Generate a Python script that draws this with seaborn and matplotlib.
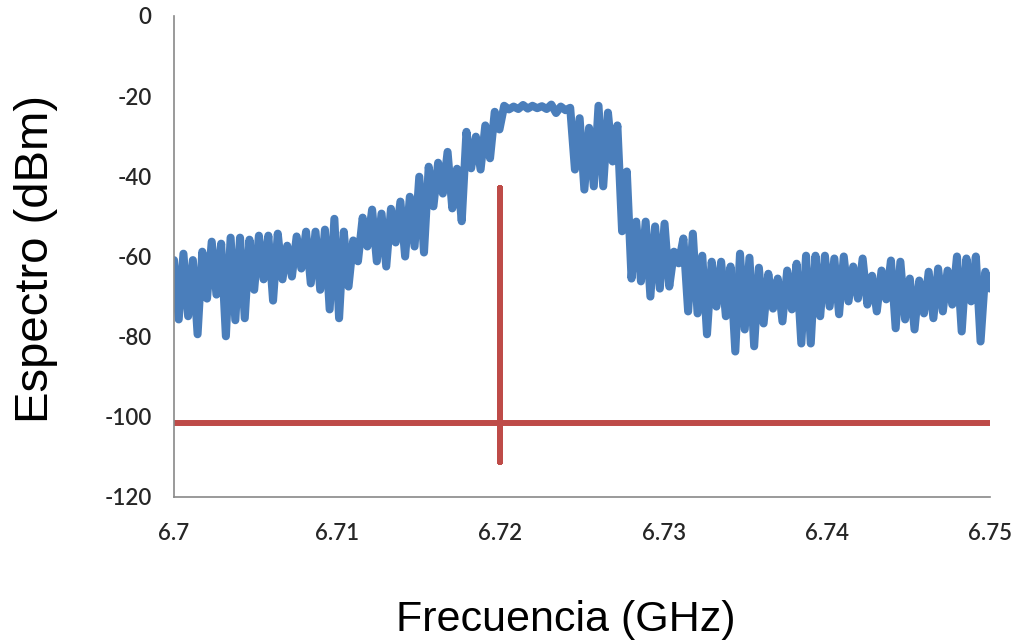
import numpy as np
import pandas as pd
import matplotlib
matplotlib.use("Agg")
import matplotlib.pyplot as plt
import seaborn as sns

# Frequency span of the sweep (GHz)
freq_start, freq_stop = 6.70, 6.75

# Measured spectrum (dBm), alternating local maxima / minima across the sweep
lower_band = [
    -60.9, -75.7, -59.3, -74.9, -60.9, -79.4, -58.8, -70.5, -56.3, -69.5,
    -56.8, -79.9, -55.3, -75.9, -55.3, -75.4, -55.8, -68.3, -54.8, -65.7,
    -54.8, -71.0, -54.3, -65.7, -57.3, -65.0, -55.0, -63.0, -53.8,
]
rising_edge = [
    -66.7, -53.8, -68.3, -53.3, -73.2, -50.6, -75.4, -53.8, -67.5, -56.0,
    -61.2, -50.3, -57.5, -48.3, -61.2, -49.3, -62.5, -48.1, -56.5, -46.3,
    -60.0, -45.1, -57.5, -40.1, -59.0, -37.6, -47.5, -36.6, -44.3, -33.9,
    -48.0, -38.1, -51.2, -28.9, -38.0, -30.1, -38.3, -27.3, -35.5, -23.9,
    -28.3, -22.4,
]
passband = [
    -23.3, -22.6, -23.2, -22.2, -23.1, -22.4, -23.0, -22.5, -23.2, -22.1,
    -24.2, -22.6, -23.5, -22.9,
]
falling_edge = [
    -38.3, -25.5, -43.3, -27.9, -42.5, -22.4, -42.5, -24.1, -36.3, -27.3,
    -53.7, -38.8, -65.5, -51.3, -66.2, -51.3, -70.0, -52.5, -68.0, -51.8,
    -67.5, -58.8, -61.7, -55.5, -73.7, -54.3, -74.2, -59.8, -79.4, -61.3,
]
upper_band = [
    -72.5, -61.3, -74.9, -62.5, -83.7, -59.3, -78.2, -60.3, -82.4, -62.8,
    -76.7, -64.3, -73.0, -65.5, -76.2, -63.5, -73.2, -61.8, -81.7, -59.8,
    -81.7, -59.8, -74.9, -59.8, -72.5, -60.5, -74.4, -60.0,
    -71.2, -62.5, -70.5, -60.5, -72.0, -64.8, -73.7, -63.5, -70.7, -61.0,
    -77.9, -61.3, -75.7, -65.5, -78.2, -66.0, -74.2, -63.8, -75.4, -63.0,
    -73.7, -63.5, -72.0, -60.0, -78.7, -60.5, -71.2, -60.0, -81.2, -63.8,
    -68.0,
]

# Reference tone: noise floor with a single line at 6.72 GHz
tone_freq = [6.70, 6.72, 6.72, 6.72, 6.72, 6.75]
tone_level = [-101.5, -101.5, -43.0, -111.3, -101.5, -101.5]

# Axis ticks
x_ticks = [6.70, 6.71, 6.72, 6.73, 6.74, 6.75]
x_tick_labels = ["6.7", "6.71", "6.72", "6.73", "6.74", "6.75"]
y_ticks = [0, -20, -40, -60, -80, -100, -120]
y_tick_labels = ["0", "-20", "-40", "-60", "-80", "-100", "-120"]

spectrum = lower_band + rising_edge + passband + falling_edge + upper_band
spec_df = pd.DataFrame({
    "freq": np.linspace(freq_start, freq_stop, len(spectrum)),
    "level": spectrum,
})
tone_df = pd.DataFrame({"freq": tone_freq, "level": tone_level})

sns.set_theme(style="white")
plt.rcParams["font.family"] = ["Liberation Sans", "DejaVu Sans"]

fig = plt.figure(figsize=(10.19, 6.44), dpi=100)
ax = fig.add_axes([174 / 1019, 1 - 497 / 644, (990 - 174) / 1019, (497 - 16) / 644])

blue = "#4A7EBB"
red = "#BE4B48"

sns.lineplot(data=spec_df, x="freq", y="level", ax=ax, color=blue,
             linewidth=5.8, sort=False, estimator=None,
             solid_joinstyle="round", solid_capstyle="round")
sns.lineplot(data=tone_df, x="freq", y="level", ax=ax, color=red,
             linewidth=4.3, sort=False, estimator=None,
             solid_joinstyle="round", solid_capstyle="round")

ax.set_xlim(freq_start, freq_stop)
ax.set_ylim(-120, 0)
ax.set_xticks(x_ticks)
ax.set_xticklabels(x_tick_labels)
ax.set_yticks(y_ticks)
ax.set_yticklabels(y_tick_labels)
ax.set_xlabel("")
ax.set_ylabel("")

for side in ("top", "right"):
    ax.spines[side].set_visible(False)
for side in ("left", "bottom"):
    ax.spines[side].set_color("#898989")
    ax.spines[side].set_linewidth(1.2)

tick_font = ["Lato", "DejaVu Sans"]
ax.tick_params(axis="both", which="major", direction="out", length=6,
               width=1.2, color="#898989", labelcolor="#262626", labelsize=16)
ax.tick_params(axis="y", pad=10)
ax.tick_params(axis="x", pad=13)
for lbl in ax.get_xticklabels() + ax.get_yticklabels():
    lbl.set_family(tick_font)
    lbl.set_fontweight("semibold")

fig.text(566 / 1019, 1 - 620 / 644, "Frecuencia (GHz)", ha="center", va="center",
         fontsize=31, color="#000000")
fig.text(36 / 1019, 1 - 259 / 644, "Espectro (dBm)", ha="center", va="center",
         rotation=90, fontsize=34, color="#000000")

fig.savefig("out.png", dpi=100)
